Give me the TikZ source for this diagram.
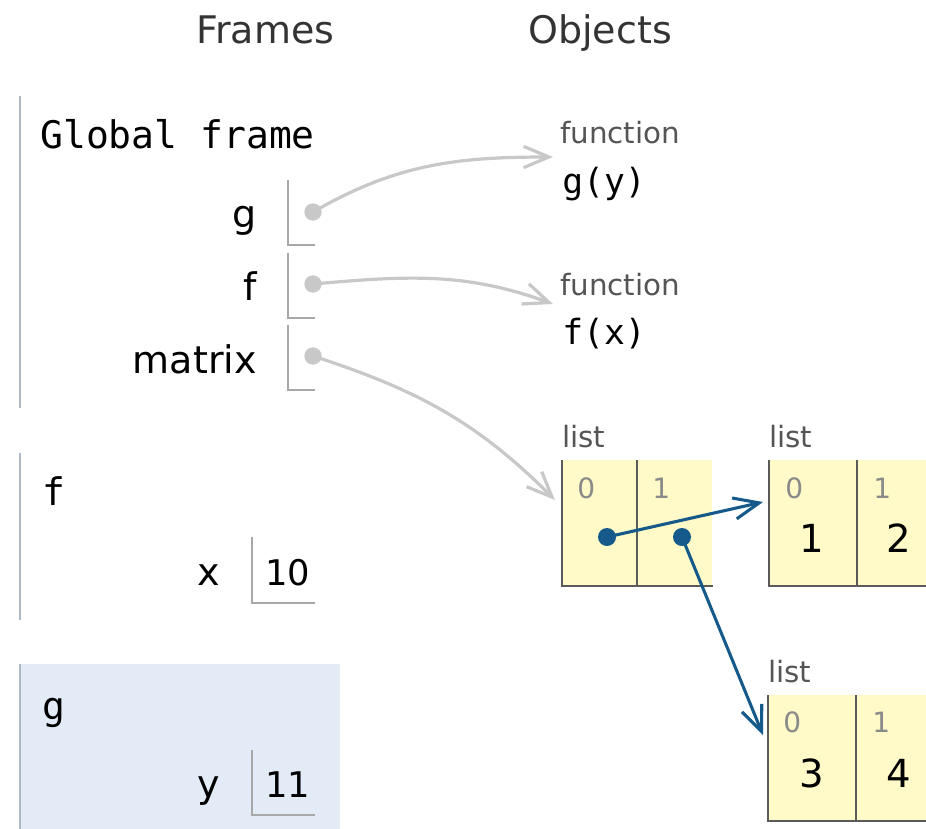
\documentclass[tikz,border=0pt]{standalone}
\usepackage{fontspec}
\setmainfont{DejaVu Sans}
\setmonofont{DejaVu Sans Mono}
\usetikzlibrary{arrows.meta}

\definecolor{framebar}{HTML}{AEB8C2}
\definecolor{framehl}{HTML}{E2EBF6}
\definecolor{slotline}{HTML}{A8A8A8}
\definecolor{ptrgray}{HTML}{C8C8C8}
\definecolor{ptrblue}{HTML}{155A8A}
\definecolor{cellbg}{HTML}{FFFAC8}
\definecolor{cellline}{HTML}{5A5A5A}
\definecolor{typegray}{HTML}{555555}
\definecolor{idxgray}{HTML}{8A8A8A}

\tikzset{
  heading/.style={inner sep=0, text=black!80, font=\fontsize{28.5}{34}\selectfont},
  framename/.style={inner sep=0, font=\ttfamily\fontsize{28.5}{34}\selectfont},
  varname/.style={inner sep=0, font=\fontsize{28.5}{34}\selectfont},
  varval/.style={inner sep=0, font=\fontsize{26.5}{32}\selectfont},
  typename/.style={inner sep=0, text=typegray, font=\fontsize{22}{26}\selectfont},
  funcname/.style={inner sep=0, font=\ttfamily\fontsize{26}{30}\selectfont},
  idx/.style={inner sep=0, text=idxgray, font=\fontsize{21}{25}\selectfont},
  cellval/.style={inner sep=0, font=\fontsize{29}{34}\selectfont},
  framebarline/.style={draw=framebar, line width=2pt},
  slot/.style={draw=slotline, line width=1.5pt},
  cell/.style={fill=cellbg, inner sep=0, minimum height=93.75pt},
  cellborder/.style={draw=cellline, line width=1.5pt},
  gdot/.style={circle, fill=ptrgray, inner sep=0, minimum size=13pt},
  bdot/.style={circle, fill=ptrblue, inner sep=0, minimum size=13.5pt},
  grayptr/.style={draw=ptrgray, line width=2.4pt, -{Straight Barb[length=19pt,width=16pt]}},
  blueptr/.style={draw=ptrblue, line width=2.3pt, -{Straight Barb[length=19pt,width=16pt]}},
}

\begin{document}
\begin{tikzpicture}[x=0.75pt,y=-0.75pt]
\useasboundingbox (0,0) rectangle (926,829);

% headings
\node[heading, anchor=base west] (frames) at (196,43) {Frames};
\node[heading, anchor=base west] (objects) at (528,43) {Objects};

% global frame
\draw[framebarline] (20,96) -- (20,408);
\node[framename, anchor=base west] (global) at (40,148) {Global frame};

\node[varname, anchor=base east] (gname) at (257,227) {g};
\draw[slot] (288,180) |- (315,245);
\node[gdot] (gptr) at (313,212) {};

\node[varname, anchor=base east] (fname) at (257,300) {f};
\draw[slot] (288,253) |- (315,318);
\node[gdot] (fptr) at (313,284) {};

\node[varname, anchor=base east] (mname) at (257,373) {matrix};
\draw[slot] (288,325) |- (315,390);
\node[gdot] (mptr) at (313,356) {};

% frame f
\draw[framebarline] (20,453) -- (20,620);
\node[framename, anchor=base west] (fframe) at (42,505) {f};
\node[varname, anchor=base east] (xname) at (220,585) {x};
\draw[slot] (252,537) |- (315,603);
\node[varval, anchor=base west] (xval) at (265,585) {10};

% frame g (current)
\fill[framehl] (20,664) rectangle (340,829);
\draw[framebarline] (20,664) -- (20,829);
\node[framename, anchor=base west] (gframe) at (42,719) {g};
\node[varname, anchor=base east] (yname) at (220,797) {y};
\draw[slot] (252,750) |- (315,815);
\node[varval, anchor=base west] (yval) at (265,797) {11};

% function objects
\node[typename, anchor=base west] (gtype) at (560,143) {function};
\node[funcname, anchor=base west] (gfunc) at (562,193) {g(y)};
\coordinate (gin) at (553,157);

\node[typename, anchor=base west] (ftype) at (560,295) {function};
\node[funcname, anchor=base west] (ffunc) at (562,344) {f(x)};
\coordinate (fin) at (553,304);

% outer list
\node[typename, anchor=base west] (l1type) at (562,447) {list};
\node[cell, minimum width=56.25pt, anchor=north west] (l1c0) at (562,460) {};
\node[cell, minimum width=56.25pt, anchor=north west] (l1c1) at (637,460) {};
\draw[cellborder] (l1c0.north west) |- (l1c0.south east);
\draw[cellborder] (l1c1.north west) |- (l1c1.south east);
\node[idx, anchor=base west] (l1i0) at (577,498) {0};
\node[idx, anchor=base west] (l1i1) at (652,498) {1};
\node[bdot] (l1p0) at (607,537) {};
\node[bdot] (l1p1) at (682,537) {};
\coordinate (lin) at (555,500);

% list [1, 2]
\node[typename, anchor=base west] (l2type) at (769,447) {list};
\node[cell, minimum width=66pt, anchor=north west] (l2c0) at (769,460) {};
\node[cell, minimum width=66pt, anchor=north west] (l2c1) at (857,460) {};
\draw[cellborder] (l2c0.north west) |- (l2c0.south east);
\draw[cellborder] (l2c1.north west) |- (l2c1.south east);
\node[idx, anchor=base west] (l2i0) at (785,498) {0};
\node[idx, anchor=base west] (l2i1) at (873,498) {1};
\node[cellval, anchor=base] (l2v0) at (812,552) {1};
\node[cellval, anchor=base] (l2v1) at (899,552) {2};
\coordinate (l2in) at (763,502);

% list [3, 4]
\node[typename, anchor=base west] (l3type) at (768,682) {list};
\node[cell, minimum width=66pt, anchor=north west] (l3c0) at (768,695) {};
\node[cell, minimum width=66pt, anchor=north west] (l3c1) at (856,695) {};
\draw[cellborder] (l3c0.north west) |- (l3c0.south east);
\draw[cellborder] (l3c1.north west) |- (l3c1.south east);
\node[idx, anchor=base west] (l3i0) at (783,732) {0};
\node[idx, anchor=base west] (l3i1) at (872,732) {1};
\node[cellval, anchor=base] (l3v0) at (812,787) {3};
\node[cellval, anchor=base] (l3v1) at (899,787) {4};
\coordinate (l3in) at (763,735);

% pointers
\draw[grayptr] (gptr.center) to[out=30, in=180] (gin);
\draw[grayptr] (fptr.center) to[out=5, in=160] (fin);
\draw[grayptr] (mptr.center) to[out=-18, in=135] (lin);
\draw[blueptr] (l1p0.center) -- (l2in);
\draw[blueptr] (l1p1.center) -- (l3in);
\end{tikzpicture}
\end{document}
